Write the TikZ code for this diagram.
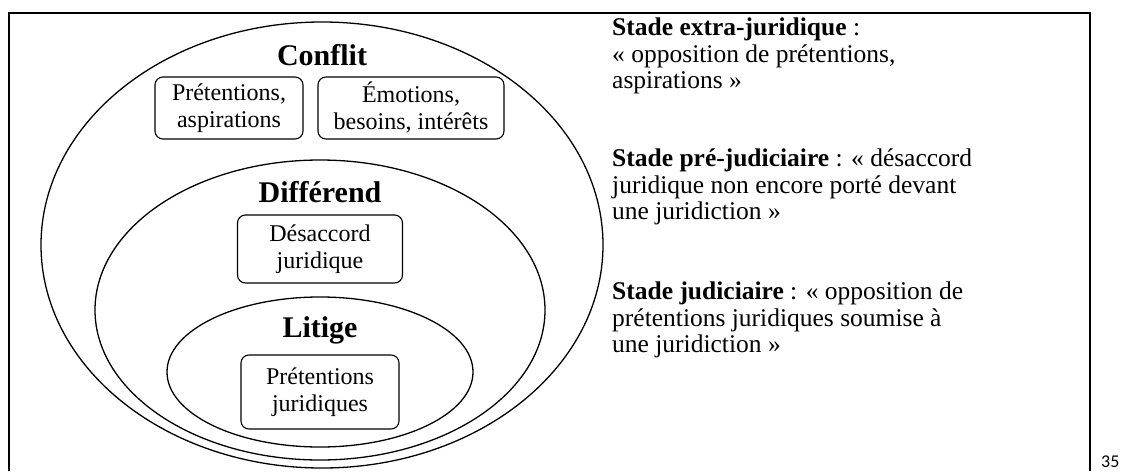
\documentclass[tikz,border=0pt]{standalone}
\usepackage{fontspec}
\setmainfont{Liberation Serif}
\newfontfamily\pagefont{Carlito}
\usetikzlibrary{shapes.geometric,positioning}
\tikzset{%
  % Specifications for style of nodes:
          zone/.style = {ellipse, draw=black, line width=1.3pt, inner sep=0pt},
         title/.style = {font=\fontsize{30}{32}\selectfont\bfseries},
        notion/.style = {rectangle, rounded corners=8pt, draw=black, line width=1.1pt,
                         minimum height=64pt, align=center, inner sep=2pt,
                         font=\fontsize{24}{27}\selectfont},
         stade/.style = {anchor=north west, align=left, inner sep=0pt,
                         font=\fontsize{25.5}{26.5}\selectfont},
}

\begin{document}
\begin{tikzpicture}[x=1pt, y=-1pt]
  \useasboundingbox (0,0) rectangle (1121,471);
  % Frame
  \draw[line width=1.6pt] (9,471) -- (9,13) -- (1090,13) -- (1090,471);

  % Nested zones
  \node (conflit)    [zone, minimum width=562pt, minimum height=446pt] at (322,245) {};
  \node (differend)  [zone, minimum width=450pt, minimum height=300pt] at (320,310) {};
  \node (litige)     [zone, minimum width=306pt, minimum height=150pt] at (320,372) {};

  % Titles and notions
  \node (conflitT)   [title] at (322,55) {Conflit};
  \node (pretAsp)    [notion, minimum width=148pt, minimum height=62pt] at (229,108) {Prétentions,\\aspirations};
  \node (emotions)   [notion, minimum width=186pt, minimum height=62pt] at (411,108) {Émotions,\\besoins, intérêts};
  \node (differendT) [title] at (320,192) {Différend};
  \node (desaccord)  [notion, minimum width=165pt, minimum height=68pt] at (320,249) {Désaccord\\juridique};
  \node (litigeT)    [title] at (320,330) {Litige};
  \node (pretJur)    [notion, minimum width=158pt, minimum height=74pt] at (320,392) {Prétentions\\juridiques};

  % Stages
  \node (extra)      [stade] at (612,18) {\textbf{Stade extra-juridique} :\\« opposition de prétentions,\\aspirations »};
  \node (prejud)     [stade] at (612,149) {\textbf{Stade pré-judiciaire} : « désaccord\\juridique non encore porté devant\\une juridiction »};
  \node (judic)      [stade] at (612,282) {\textbf{Stade judiciaire} : « opposition de\\prétentions juridiques soumise à\\une juridiction »};

  \node (page)       [anchor=west, inner sep=0pt, font=\pagefont\fontsize{18}{20}\selectfont] at (1101,462) {35};
\end{tikzpicture}
\end{document}
